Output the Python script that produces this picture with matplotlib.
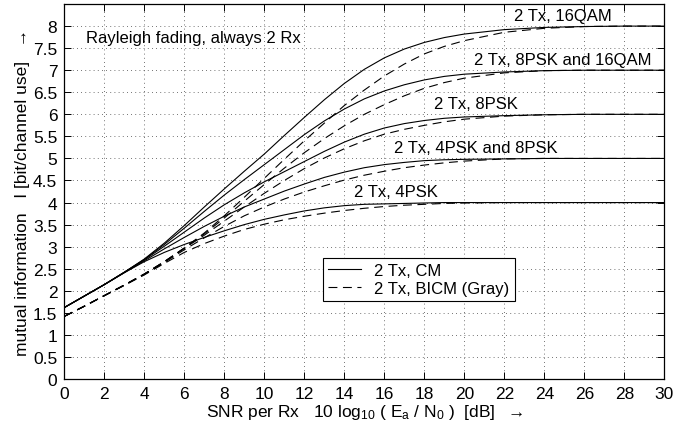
import matplotlib
matplotlib.use('Agg')
import matplotlib.pyplot as plt

plt.rcParams['font.family'] = ['Liberation Sans', 'DejaVu Sans']
plt.rcParams['mathtext.fontset'] = 'custom'
plt.rcParams['mathtext.rm'] = 'Liberation Sans'
plt.rcParams['mathtext.it'] = 'Liberation Sans'

# SNR per Rx in dB
snr = list(range(0, 21)) + [22, 24, 26, 28, 30]

# CM (solid) curves
cm_16qam = [1.62, 1.88, 2.14, 2.42, 2.72, 3.08, 3.48, 3.90, 4.31, 4.71, 5.10, 5.52, 5.93, 6.33, 6.70, 7.02,
            7.28, 7.48, 7.63, 7.74, 7.82, 7.92, 7.97, 7.99, 8.00, 8.00]
cm_8psk_16qam = [1.62, 1.88, 2.14, 2.42, 2.71, 3.05, 3.42, 3.80, 4.17, 4.52, 4.86, 5.20, 5.54, 5.85, 6.12, 6.35,
                 6.53, 6.67, 6.78, 6.86, 6.91, 6.96, 6.99, 7.00, 7.00, 7.00]
cm_8psk = [1.62, 1.88, 2.14, 2.42, 2.70, 3.01, 3.33, 3.65, 3.95, 4.22, 4.47, 4.70, 4.93, 5.16, 5.37, 5.55,
           5.69, 5.79, 5.86, 5.91, 5.94, 5.97, 5.99, 6.00, 6.00, 6.00]
cm_4psk_8psk = [1.62, 1.88, 2.14, 2.41, 2.68, 2.95, 3.21, 3.46, 3.69, 3.90, 4.08, 4.26, 4.42, 4.57, 4.69, 4.79,
                4.86, 4.91, 4.95, 4.97, 4.98, 4.99, 5.00, 5.00, 5.00, 5.00]
cm_4psk = [1.62, 1.88, 2.14, 2.41, 2.66, 2.87, 3.05, 3.21, 3.36, 3.50, 3.62, 3.72, 3.81, 3.88, 3.93, 3.96,
           3.97, 3.98, 3.99, 4.00, 4.00, 4.00, 4.00, 4.00, 4.00, 4.00]

# BICM with Gray labelling (dashed)
bicm_16qam = [1.42, 1.65, 1.89, 2.13, 2.38, 2.66, 2.97, 3.31, 3.70, 4.12, 4.55, 4.98, 5.40, 5.80, 6.20, 6.55,
              6.87, 7.14, 7.37, 7.54, 7.67, 7.86, 7.95, 7.99, 8.00, 8.00]
bicm_8psk_16qam = [1.42, 1.65, 1.89, 2.13, 2.38, 2.66, 2.97, 3.29, 3.65, 4.03, 4.41, 4.78, 5.13, 5.45, 5.74, 6.00,
                   6.22, 6.42, 6.59, 6.72, 6.82, 6.94, 6.99, 7.00, 7.00, 7.00]
bicm_8psk = [1.42, 1.65, 1.89, 2.13, 2.38, 2.66, 2.96, 3.26, 3.58, 3.90, 4.21, 4.50, 4.77, 5.01, 5.22, 5.40,
             5.55, 5.66, 5.75, 5.83, 5.89, 5.96, 5.99, 6.00, 6.00, 6.00]
bicm_4psk_8psk = [1.42, 1.65, 1.89, 2.13, 2.37, 2.64, 2.93, 3.20, 3.46, 3.70, 3.90, 4.08, 4.24, 4.38, 4.51, 4.62,
                  4.71, 4.79, 4.85, 4.90, 4.94, 4.99, 5.00, 5.00, 5.00, 5.00]
bicm_4psk = [1.42, 1.65, 1.89, 2.12, 2.36, 2.62, 2.87, 3.07, 3.24, 3.39, 3.51, 3.61, 3.69, 3.76, 3.82, 3.87,
             3.91, 3.94, 3.96, 3.98, 3.99, 4.00, 4.00, 4.00, 4.00, 4.00]

cm_curves = [cm_16qam, cm_8psk_16qam, cm_8psk, cm_4psk_8psk, cm_4psk]
bicm_curves = [bicm_16qam, bicm_8psk_16qam, bicm_8psk, bicm_4psk_8psk, bicm_4psk]

labels = ['2 Tx, 16QAM', '2 Tx, 8PSK and 16QAM', '2 Tx, 8PSK', '2 Tx, 4PSK and 8PSK', '2 Tx, 4PSK']
label_x = [22.5, 20.5, 18.5, 16.5, 14.5]
label_y = [8.07, 7.07, 6.07, 5.07, 4.07]

fig = plt.figure(figsize=(6.87, 4.31), dpi=100)
ax = fig.add_axes([0.0936, 0.1183, 0.8734, 0.8700])

for i, c in enumerate(cm_curves):
    ax.plot(snr, c, color='black', lw=0.8, label='2 Tx, CM' if i == 0 else None)
for i, c in enumerate(bicm_curves):
    ax.plot(snr, c, color='black', lw=0.8, dashes=(8, 5), label='2 Tx, BICM (Gray)' if i == 0 else None)

for t, x, y in zip(labels, label_x, label_y):
    ax.text(x, y, t, fontsize=12, ha='left', va='bottom')

ax.text(1.1, 7.75, 'Rayleigh fading, always 2 Rx', fontsize=12, ha='left', va='center')

ax.set_xlim(0, 30)
ax.set_ylim(0, 8.5)
ax.set_xticks(range(0, 31, 2))
ax.set_yticks([i * 0.5 for i in range(17)])
ax.set_yticklabels(['0', '0.5', '1', '1.5', '2', '2.5', '3', '3.5', '4', '4.5', '5', '5.5', '6', '6.5', '7',
                    '7.5', '8'])
ax.tick_params(direction='in', top=True, right=True, labelsize=12.5, length=5, width=0.7, pad=5)
ax.grid(True, linestyle=(0, (1, 4)), color='#444444', lw=0.6)
for s in ax.spines.values():
    s.set_linewidth(0.9)

ax.set_xlabel(r'SNR per Rx   10 log$_{10}$ ( E$_{\mathrm{a}}$ / N$_0$ )  [dB]  $\rightarrow$', fontsize=12.5,
              labelpad=1)
ax.set_ylabel('mutual information   I [bit/channel use]   \u2192', fontsize=12.5, labelpad=2)

leg = ax.legend(loc='upper left', bbox_to_anchor=(0.4307, 0.3219), borderaxespad=0, fontsize=12,
                fancybox=False, framealpha=1, edgecolor='black', handlelength=2.0, borderpad=0.3,
                labelspacing=0.15, handletextpad=0.8)
leg.get_frame().set_linewidth(0.8)

fig.savefig('out.png', dpi=100)
